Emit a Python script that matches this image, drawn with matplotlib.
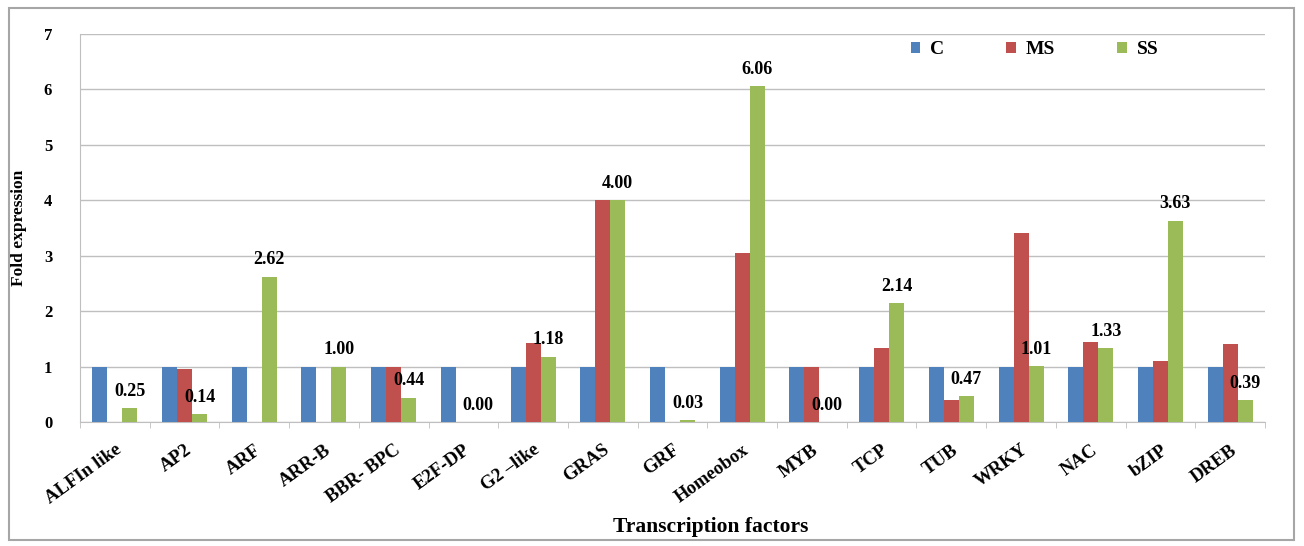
import matplotlib
matplotlib.use("Agg")
import matplotlib.pyplot as plt
import numpy as np
from matplotlib.patches import Rectangle

categories = ["ALFIn like", "AP2", "ARF", "ARR-B", "BBR- BPC", "E2F-DP", "G2 \u2013like", "GRAS",
              "GRF", "Homeobox", "MYB", "TCP", "TUB", "WRKY", "NAC", "bZIP", "DREB"]
C = [1, 1, 1, 1, 1, 1, 1, 1, 1, 1, 1, 1, 1, 1, 1, 1, 1]
MS = [0, 0.95, 0, 0, 1.0, 0, 1.43, 4.0, 0, 3.04, 1.0, 1.34, 0.39, 3.41, 1.44, 1.10, 1.40]
SS = [0.25, 0.14, 2.62, 1.00, 0.44, 0.00, 1.18, 4.00, 0.03, 6.06, 0.00, 2.14, 0.47, 1.01, 1.33, 3.63, 0.39]
series_names = ["C", "MS", "SS"]
colors = ["#4F81BD", "#C0504D", "#9BBB59"]

plt.rcParams['font.family'] = ['Liberation Serif', 'DejaVu Serif']
fig = plt.figure(figsize=(13.04, 5.46), dpi=100)
ax = fig.add_axes([80/1304, 1-422/546, (1265-80)/1304, (422-34)/546])

x = np.arange(len(categories))
w = 0.215
for i, (vals, col, name) in enumerate(zip([C, MS, SS], colors, series_names)):
    ax.bar(x + (i-1)*w, vals, w, color=col, label=name, zorder=3)

for xi, v in zip(x, SS):
    ax.text(xi + w, v + 0.15, f"{v:.2f}", ha='center', va='bottom', fontsize=13,
            fontweight='bold', zorder=4)

ax.set_xlim(-0.5, len(categories)-0.5)
ax.set_ylim(0, 7)
ax.set_yticks(range(8))
ax.set_yticklabels([str(i) for i in range(8)], fontsize=12, fontweight='bold')
ax.yaxis.grid(True, color='#BFBFBF', linewidth=1, zorder=0)
ax.set_axisbelow(True)
for s in ['top', 'right']:
    ax.spines[s].set_visible(False)
ax.spines['left'].set_color('#BFBFBF')
ax.spines['bottom'].set_color('#BFBFBF')
ax.tick_params(axis='y', length=0, pad=20)
ax.set_xticks(x)
ax.set_xticklabels(categories, rotation=36, ha='right', rotation_mode='anchor',
                   fontsize=13.5, fontweight='bold')
ax.tick_params(axis='x', length=0, pad=14)
ax.set_xticks(np.arange(len(categories)+1) - 0.5, minor=True)
ax.tick_params(axis='x', which='minor', length=4, color='#BFBFBF')

ax.set_ylabel("Fold expression", fontsize=12.5, fontweight='bold')
ax.yaxis.set_label_coords((27-80)/1185, 0.5)
fig.text(711/1304, 1-527/546, "Transcription factors", ha='center', va='center',
         fontsize=15.5, fontweight='bold')

ax.legend(loc='center left', bbox_to_anchor=(893/1304, 1-50/546), bbox_transform=fig.transFigure,
          ncol=3, frameon=False, prop={'weight': 'bold', 'size': 14},
          handlelength=0.5, handleheight=0.5, columnspacing=3.2, handletextpad=0.5)

fig.patches.append(Rectangle((9/1304, 6/546), 1285/1304, 532/546, transform=fig.transFigure,
                             fill=False, edgecolor='#A6A6A6', linewidth=1.5))

fig.savefig("out.png", dpi=100)
